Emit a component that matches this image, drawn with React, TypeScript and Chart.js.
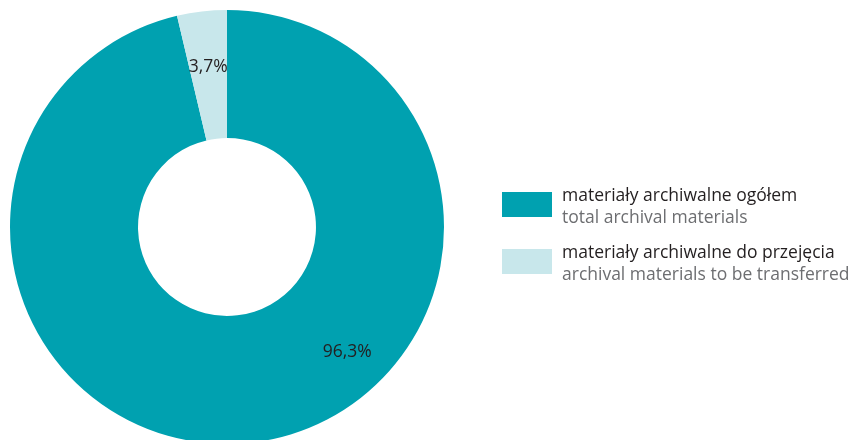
import React, { useEffect, useRef } from "react";
import { Chart, registerables } from "chart.js";

Chart.register(...registerables);

const categoriesPl = ["materiały archiwalne ogółem", "materiały archiwalne do przejęcia"];
const categoriesEn = ["total archival materials", "archival materials to be transferred"];
const shares = [96.3, 3.7];
const shareLabels = ["96,3%", "3,7%"];
const colors = ["#00A1B0", "#C8E7EB"];

const FONT = "'Open Sans', 'Noto Sans', sans-serif";

const labelPlugin = {
  id: "sliceLabels",
  afterDatasetsDraw(chart: any) {
    const meta = chart.getDatasetMeta(0);
    const ctx = chart.ctx;
    // fraction along each arc (0 = start, 1 = end) and radius factor between inner/outer
    const anchors = [
      { t: 0.392, r: 0.655 },
      { t: 0.5, r: 0.57 },
    ];
    ctx.save();
    ctx.font = `17.5px ${FONT}`;
    ctx.fillStyle = "#231f20";
    ctx.textAlign = "center";
    ctx.textBaseline = "middle";
    meta.data.forEach((arc: any, i: number) => {
      const { x, y, startAngle, endAngle, innerRadius, outerRadius } = arc.getProps(
        ["x", "y", "startAngle", "endAngle", "innerRadius", "outerRadius"],
        true
      );
      const a = startAngle + (endAngle - startAngle) * anchors[i].t;
      const rr = innerRadius + (outerRadius - innerRadius) * anchors[i].r;
      ctx.fillText(shareLabels[i], x + Math.cos(a) * rr, y + Math.sin(a) * rr + 1);
    });
    ctx.restore();
  },
};

export default function App() {
  const ref = useRef<HTMLCanvasElement | null>(null);
  useEffect(() => {
    if (!ref.current) return;
    const chart = new Chart(ref.current, {
      type: "doughnut",
      data: {
        labels: categoriesPl,
        datasets: [
          {
            data: shares,
            backgroundColor: colors,
            borderWidth: 0,
          },
        ],
      },
      options: {
        responsive: false,
        animation: false,
        cutout: "41%",
        layout: { padding: { left: 10, top: 10, right: 406, bottom: 16 } },
        plugins: {
          legend: { display: false },
          tooltip: { enabled: false },
        },
      },
      plugins: [labelPlugin],
    });
    return () => chart.destroy();
  }, []);

  return (
    <div
      style={{
        position: "fixed",
        left: 0,
        top: 0,
        width: 850,
        height: 440,
        overflow: "hidden",
        background: "#fff",
        fontFamily: FONT,
      }}
    >
      <canvas ref={ref} width={850} height={460} style={{ position: "absolute", left: 0, top: 0 }} />
      {categoriesPl.map((pl, i) => (
        <div
          key={pl}
          style={{
            position: "absolute",
            left: 502,
            top: 183 + i * 57,
            display: "flex",
            alignItems: "flex-start",
          }}
        >
          <div
            style={{
              width: 50,
              height: 25,
              marginTop: 9,
              background: colors[i],
              flex: "0 0 auto",
            }}
          />
          <div style={{ marginLeft: 10, fontSize: 17.5, lineHeight: "22px", whiteSpace: "nowrap" }}>
            <div style={{ color: "#231f20" }}>{pl}</div>
            <div style={{ color: "#6d6e71" }}>{categoriesEn[i]}</div>
          </div>
        </div>
      ))}
    </div>
  );
}
